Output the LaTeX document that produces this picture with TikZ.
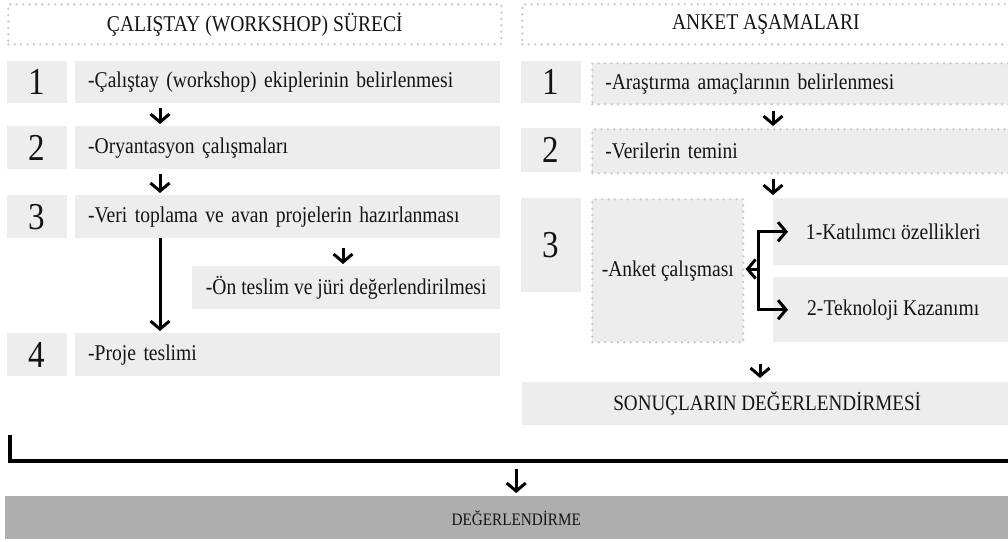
\documentclass[tikz,border=0pt]{standalone}
\usepackage{fontspec}
\setmainfont{Liberation Serif}[FakeStretch=0.87]
\usetikzlibrary{arrows.meta}
\definecolor{boxgray}{HTML}{EDEDED}
\definecolor{dotgray}{HTML}{C9C9C9}
\definecolor{darkbox}{HTML}{AEAEAE}
\definecolor{txt}{HTML}{141414}
\begin{document}
\begin{tikzpicture}[x=1pt,y=-1pt,
  box/.style={fill=boxgray, inner sep=0pt, anchor=north west, text=txt},
  numbox/.style={box, minimum width=60pt, font=\fontsize{38}{38}\selectfont},
  txtbox/.style={box, align=left, font=\fontsize{22.5}{26}\selectfont, inner xsep=13pt},
  cbox/.style={box, align=center, font=\fontsize{22.5}{26}\selectfont},
  dotbox/.style={draw=dotgray, line width=2.6pt, dash pattern=on 0pt off 6.4pt, line cap=round},
  headbox/.style={dotbox, inner sep=0pt, anchor=north west, text=txt, font=\fontsize{22.5}{24}\selectfont},
  arr/.style={line width=3pt, line join=miter, -{Straight Barb[length=8pt,width=19pt,line width=3pt]}},
  ]
\useasboundingbox (0,0) rectangle (1008,541);

% headers
\node[headbox, minimum width=493pt, minimum height=40pt] (hL) at (7,3) {ÇALIŞTAY (WORKSHOP) SÜRECİ};
\node[headbox, minimum width=487pt, minimum height=40pt] (hR) at (521,3) {ANKET AŞAMALARI};

% left column
\node[numbox, minimum height=42pt] (n1) at (7,61) {1};
\node[txtbox, text width=399pt, minimum height=42pt] (t1) at (75,61) {-Çalıştay (workshop) ekiplerinin belirlenmesi};
\node[numbox, minimum height=43pt] (n2) at (7,126) {2};
\node[txtbox, text width=399pt, minimum height=43pt] (t2) at (75,126) {-Oryantasyon çalışmaları};
\node[numbox, minimum height=43pt] (n3) at (7,195) {3};
\node[txtbox, text width=399pt, minimum height=43pt] (t3) at (75,195) {-Veri toplama ve avan projelerin hazırlanması};
\node[cbox, minimum width=308pt, minimum height=43pt] (on) at (192,266) {-Ön teslim ve jüri değerlendirilmesi};
\node[numbox, minimum height=43pt] (n4) at (7,333) {4};
\node[txtbox, text width=399pt, minimum height=43pt] (t4) at (75,333) {-Proje teslimi};

\draw[arr] ([shift={(85,5)}]t1.south west) -- ([shift={(85,-2)}]t2.north west);
\draw[arr] ([shift={(85,5)}]t2.south west) -- ([shift={(85,-2)}]t3.north west);
\draw[arr] ([shift={(85,0)}]t3.south west) -- ([shift={(85,-2)}]t4.north west);
\draw[arr] ([shift={(151,10)}]on.north west |- t3.south) -- ([shift={(151,-2)}]on.north west);

% right column
\node[numbox, minimum height=42pt] (m1) at (521,61) {1};
\node[box, dotbox, align=left, font=\fontsize{22.5}{26}\selectfont, inner xsep=13pt, text width=395pt, minimum height=41pt] (r1) at (591,62) {-Araştırma amaçlarının belirlenmesi};
\node[numbox, minimum height=44pt] (m2) at (521,128) {2};
\node[box, dotbox, align=left, font=\fontsize{22.5}{26}\selectfont, inner xsep=13pt, text width=395pt, minimum height=44pt] (r2) at (591,128) {-Verilerin temini};
\node[numbox, minimum height=94pt] (m3) at (521,198) {3};
\node[cbox, dotbox, minimum width=151pt, minimum height=143pt] (ank) at (591,198) {-Anket çalışması};
\node[cbox, minimum width=240pt, minimum height=67pt] (k1) at (773,198) {1-Katılımcı özellikleri};
\node[cbox, minimum width=240pt, minimum height=65pt] (k2) at (773,277) {2-Teknoloji Kazanımı};
\node[cbox, font=\fontsize{22}{24}\selectfont, minimum width=490pt, minimum height=43pt] (son) at (522,382) {SONUÇLARIN DEĞERLENDİRMESİ};

\draw[arr] ([shift={(182,5)}]r1.south west) -- ([shift={(182,-2)}]r2.north west);
\draw[arr] ([shift={(182,4)}]r2.south west) -- ([shift={(0,-3)}]k1.north west);
\coordinate (fork) at (758,269);
\draw[arr] (fork) -- ([shift={(1,0)}]ank.east |- fork);
\draw[arr] (fork) |- ([shift={(15,0)}]k1.west);
\draw[arr] (fork) |- ([shift={(15,0)}]k2.west);
\draw[arr] ([shift={(238,20)}]son.north west |- ank.south) -- ([shift={(238,-4)}]son.north west);

% bottom
\node[box, fill=darkbox, font=\fontsize{17.5}{20}\selectfont, minimum width=1022pt, minimum height=43pt] (deg) at (5,496) {DEĞERLENDİRME};
\coordinate (bL) at (10,435);
\coordinate (bR) at (1012,461);
\draw[line width=3.6pt, line join=miter] (bL) |- (bR);
\draw[arr] ([shift={(0,8)}]deg.north |- bR) -- ([shift={(0,-3)}]deg.north);
\end{tikzpicture}
\end{document}
